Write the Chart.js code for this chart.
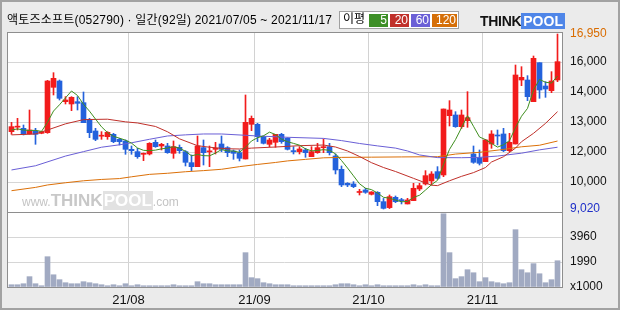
<!DOCTYPE html>
<html>
<head>
<meta charset="utf-8">
<script src="https://cdn.jsdelivr.net/npm/chart.js@4"></script>
<style>
html, body { margin: 0; padding: 0; }
body {
  width: 620px; height: 310px; position: relative; overflow: hidden;
  background: #ebebeb;
  font-family: "Liberation Sans", "Noto Sans CJK KR", sans-serif;
}
canvas { position: absolute; left: 0; top: 0; }
#frame {
  position: absolute; left: 0; top: 0; width: 620px; height: 310px;
  box-sizing: border-box; border: 2px solid #a2a2a2; pointer-events: none;
}
#title {
  position: absolute; left: 7px; top: 13px; font-size: 12px; line-height: 14px;
  letter-spacing: 0.2px; color: #000; white-space: nowrap;
}
#legend {
  position: absolute; left: 339px; top: 11px; width: 118px; height: 16px;
  background: #fff; border: 1px solid #a0a0a0; font-size: 12px; line-height: 13px;
}
#legend span { position: absolute; top: 2px; height: 13px; color: #fff; text-align: right; padding-right: 1px; box-sizing: border-box; }
#legend .lbl { color: #000; left: 3px; width: 24px; text-align: left; top: 1px; }
#logo { position: absolute; left: 480px; top: 14px; height: 15px; font-weight: bold; font-size: 14px; line-height: 15px; white-space: nowrap; }
#logo .a { color: #111; letter-spacing: -0.3px; }
#logo .b { color: #fff; background: #4f86e8; padding: 0 2px; }
#wm { position: absolute; left: 22px; top: 193px; white-space: nowrap; font-weight: bold; line-height: 16px; pointer-events: none; }
#wm .s { font-size: 12px; font-weight: normal; color: #c4c4c4; }
#wm .t { font-size: 17px; color: #c8c8c8; }
#wm .p { font-size: 17px; color: #fff; background: #e2e2e2; padding: 0 1px; }
</style>
</head>
<body>
<canvas id="myChart" width="620" height="310"></canvas>
<div id="title">액토즈소프트(052790) · 일간(92일) 2021/07/05 ~ 2021/11/17</div>
<div id="legend">
  <span class="lbl">이평</span>
  <span style="left:29px;width:19px;background:#3d8f27">5</span>
  <span style="left:50px;width:19px;background:#c0302a">20</span>
  <span style="left:71px;width:19px;background:#6a5fd6">60</span>
  <span style="left:92px;width:25px;background:#d56f08">120</span>
</div>
<div id="logo"><span class="a">THINK</span><span class="b">POOL</span></div>
<div id="wm"><span class="s">www.</span><span class="t">THINK</span><span class="p">POOL</span><span class="s">.com</span></div>
<div id="frame"></div>
<script>
// daily candles, 2021/07/05 ~ 2021/11/17 (92 trading days)
var open = [12526,12730,12677,12420,12556,12450,12480,14534,14821,13884,
  13779,13884,13839,13084,12556,12320,12299,12405,12178,12103,
  11725,11620,11499,11514,12042,11876,11876,11544,11816,11620,
  11121,10940,11801,11610,11725,11967,11801,11650,11574,11287,
  12858,12858,12299,11952,12042,12405,12224,11630,11620,11695,
  11393,11574,11800,11846,11423,10819,10185,10155,9770,9883,
  9687,9777,9354,9083,9551,9410,9249,9400,9928,10155,
  10291,10714,10563,13250,13281,12752,13024,11514,11348,11167,
  11967,12340,12420,11665,11967,14866,14866,13885,15651,14594,
  14383,14866];
var high = [12948,13130,12827,13507,12677,12540,14850,15198,14866,14111,
  14111,14111,14322,13130,12677,12526,12526,12450,12224,12148,
  11876,11771,11560,12027,12148,11997,11997,12103,11922,11665,
  11469,12329,12148,11876,12042,12329,11846,11695,11695,14187,
  13235,12903,12329,12224,12405,12450,12254,11846,11846,11771,
  11846,11997,12193,11997,11514,10970,10215,10261,9913,9959,
  9808,9808,9500,9657,9611,9505,9505,10185,10185,10759,
  10714,10940,13552,13930,13431,13507,14338,11876,11695,12178,
  12571,12601,12677,12450,15545,15470,15063,15953,15651,14791,
  15244,16950];
var low = [12405,12601,12375,12420,11952,12430,12450,14187,13960,13779,
  13477,13507,12933,12254,12118,12178,12178,12027,11922,11499,
  11499,11318,11212,11469,11816,11695,11544,11318,11544,10970,
  10759,10940,11015,10940,11514,11620,11393,11272,11197,11287,
  12571,12073,11967,11846,11816,11997,11695,11514,11514,11363,
  11393,11544,11574,11469,10608,10034,10034,9989,9656,9732,
  9656,9173,9020,9040,9309,9249,9249,9400,9853,10110,
  10110,10366,10487,12782,12722,12677,12722,11091,11015,11167,
  11771,11921,11620,11620,11967,14609,13930,13885,14036,14081,
  14292,14791];
var close = [12752,12752,12405,12601,12405,12526,14821,14941,14036,13960,
  14081,13809,12933,12480,12178,12329,12495,12073,12073,11725,
  11665,11393,11544,11997,11846,11952,11574,11846,11665,11136,
  10940,11876,11574,11620,11771,11725,11574,11544,11318,12948,
  13130,12299,11997,12148,12405,12073,11725,11620,11740,11574,
  11620,11801,11816,11574,10789,10110,10110,10034,9777,9777,
  9792,9354,9050,9581,9354,9400,9430,9959,10079,10532,
  10608,10411,13552,13507,12752,13281,13160,11136,11091,12148,
  12420,12329,11665,12042,15093,14987,14111,15848,14413,14458,
  14821,15697];
// volume, x1000 shares
var volume = [180,180,260,820,260,100,2400,970,580,340,
  260,260,420,340,260,180,100,180,100,260,
  100,180,100,100,100,100,100,180,100,100,
  100,420,260,260,180,180,180,180,180,2720,
  740,660,340,260,180,180,180,100,100,100,
  100,100,100,100,180,260,260,180,100,180,
  100,180,100,100,100,100,100,180,100,180,
  100,100,5800,2720,660,820,1370,1130,420,740,
  420,340,260,340,4540,1370,1130,1850,1050,340,
  580,2080];

// moving averages
var ma5 = [12600,12650,12600,12580,12583,12538,12952,13459,13746,14057,
  14368,14165,13764,13453,13096,12746,12483,12311,12230,12139,
  12006,11786,11680,11665,11689,11746,11783,11843,11777,11635,
  11432,11493,11438,11429,11556,11713,11653,11647,11586,11822,
  12103,12248,12338,12504,12396,12184,12070,11994,11913,11746,
  11656,11671,11710,11677,11520,11218,10880,10523,10164,9962,
  9898,9747,9550,9511,9426,9348,9363,9545,9644,9880,
  10122,10318,11036,11722,12166,12701,13250,12767,12284,12163,
  11991,11825,11931,12121,12710,13223,13580,14416,14890,14763,
  14730,15047];
var ma20Days = [0,4,6,9,12,16,19,21,24,26,28,31,33,36,38,40,44,48,52,54,56,58,60,62,64,67,70,71,73,75,77,79,80,82,84,85,87,89,91];
var ma20 = [12380,12420,12600,12880,13070,13090,12970,12920,12760,12520,12200,11890,11820,11750,11740,11780,11830,11890,11920,11830,11650,11400,11120,10900,10720,10410,10100,10080,10300,10500,10670,10900,11150,11390,11780,12070,12450,12900,13430];
var ma60Days = [0,4,9,12,15,18,20,23,26,29,32,35,39,41,46,52,55,58,61,64,66,68,71,75,78,81,85,88,91];
var ma60 = [10790,10980,11420,11620,11820,11930,12020,12180,12330,12380,12420,12420,12360,12330,12270,12220,12120,11990,11880,11780,11650,11470,11350,11345,11360,11420,11550,11700,11820];
var ma120Days = [0,4,6,9,12,15,18,20,23,26,29,32,35,38,41,44,46,49,52,55,60,65,71,74,78,82,85,88,91];
var ma120 = [9850,10000,10110,10210,10300,10360,10400,10480,10590,10640,10710,10760,10820,10940,11040,11130,11200,11270,11340,11360,11370,11380,11390,11510,11590,11720,11840,11910,12100];

// axis labels
var monthStart = [20, 41, 60, 79];
var monthLabels = ['21/08', '21/09', '21/10', '21/11'];
var priceLabels = ['9,020', '10,000', '12,000', '13,000', '14,000', '16,000', '16,950'];
var volTicks = [0, 1980, 3960];
var volLabels = ['x1000', '1990', '3960'];

var RED = '#f21c1c', BLUE = '#2462dc';
var yMin = 8885, yMax = 17041;
var step = (yMax - yMin) / 6;
var priceTicks = [9020, yMin + step, yMin + 2 * step, yMin + 3 * step, yMin + 4 * step, yMin + 5 * step, 16950];

var colors = close.map(function (c, i) { return c >= open[i] ? RED : BLUE; });
function pts(days, vals) { return vals.map(function (v, i) { return { x: days[i], y: v }; }); }
var allDays = close.map(function (c, i) { return i; });

var paneFrame = {
  id: 'paneFrame',
  beforeDraw: function (c) {
    var a = c.chartArea, g = c.ctx;
    g.save();
    g.fillStyle = '#fff';
    g.fillRect(a.left, a.top, a.right - a.left, a.bottom - a.top);
    g.restore();
  },
  afterDraw: function (c) {
    var a = c.chartArea, g = c.ctx, sep = Math.round(c.scales.yv.top) + 0.5;
    g.save();
    g.strokeStyle = '#8e8e8e';
    g.lineWidth = 1;
    g.strokeRect(a.left + 0.5, a.top + 0.5, a.right - a.left, a.bottom - a.top);
    g.beginPath();
    g.moveTo(a.left, sep);
    g.lineTo(a.right, sep);
    g.stroke();
    g.restore();
  }
};

var ctx = document.getElementById('myChart');
var myChart = new Chart(ctx, {
  type: 'bar',
  data: {
    datasets: [
      { type: 'line', data: pts(allDays, ma5), borderColor: '#3f8f1f', borderWidth: 1, pointRadius: 0, yAxisID: 'y' },
      { type: 'line', data: pts(ma20Days, ma20), borderColor: '#c0302a', borderWidth: 1, pointRadius: 0, yAxisID: 'y' },
      { type: 'line', data: pts(ma60Days, ma60), borderColor: '#6a5fd6', borderWidth: 1, pointRadius: 0, yAxisID: 'y' },
      { type: 'line', data: pts(ma120Days, ma120), borderColor: '#dc7008', borderWidth: 1, pointRadius: 0, yAxisID: 'y' },
      {
        data: allDays.map(function (i) { return { x: i, y: [low[i], high[i]] }; }),
        backgroundColor: colors, barThickness: 1, grouped: false, yAxisID: 'y'
      },
      {
        data: allDays.map(function (i) { return { x: i, y: [open[i], close[i]] }; }),
        backgroundColor: colors, barThickness: 5, minBarLength: 1, grouped: false, yAxisID: 'y'
      },
      {
        data: allDays.map(function (i) { return { x: i, y: volume[i] }; }),
        backgroundColor: '#a1aac2', barThickness: 5, grouped: false, yAxisID: 'yv'
      }
    ]
  },
  options: {
    responsive: false,
    animation: false,
    devicePixelRatio: 1,
    layout: { padding: { left: 7, top: 32, right: 0, bottom: 0 } },
    plugins: { legend: { display: false }, tooltip: { enabled: false } },
    scales: {
      x: {
        type: 'linear', min: -0.75, max: 91.75, offset: false,
        afterBuildTicks: function (s) { s.ticks = monthStart.map(function (d) { return { value: d - 0.5 }; }); },
        afterFit: function (s) { s.height = 23; },
        ticks: {
          callback: function (v, i) { return monthLabels[i]; },
          autoSkip: false, maxRotation: 0, padding: 6, color: '#111',
          font: { family: 'Liberation Sans', size: 13 }
        },
        grid: { color: '#d2d2d2', drawTicks: false, offset: false },
        border: { display: false }
      },
      y: {
        position: 'right', stack: 'panes', stackWeight: 180,
        min: yMin, max: yMax,
        afterBuildTicks: function (s) { s.ticks = priceTicks.map(function (v) { return { value: v }; }); },
        afterFit: function (s) { s.width = 58; },
        ticks: {
          callback: function (v, i) { return priceLabels[i]; },
          color: function (c) { return c.index === 6 ? '#d96c00' : (c.index === 0 ? '#1f2fc8' : '#111'); },
          padding: 8, autoSkip: false, font: { family: 'Liberation Sans', size: 12 }
        },
        grid: {
          color: function (c) { return (c.index === 0 || c.index === 6) ? 'rgba(0,0,0,0)' : '#d6d6d6'; },
          drawTicks: false
        },
        border: { display: false }
      },
      yv: {
        position: 'right', stack: 'panes', stackWeight: 75,
        min: 0, max: 5940,
        afterBuildTicks: function (s) { s.ticks = volTicks.map(function (v) { return { value: v }; }); },
        afterFit: function (s) { s.width = 58; },
        ticks: {
          callback: function (v, i) { return volLabels[i]; },
          color: '#111', padding: 8, autoSkip: false, font: { family: 'Liberation Sans', size: 12 }
        },
        grid: { color: '#d6d6d6', drawTicks: false },
        border: { display: false }
      }
    }
  },
  plugins: [paneFrame]
});
</script>
</body>
</html>
